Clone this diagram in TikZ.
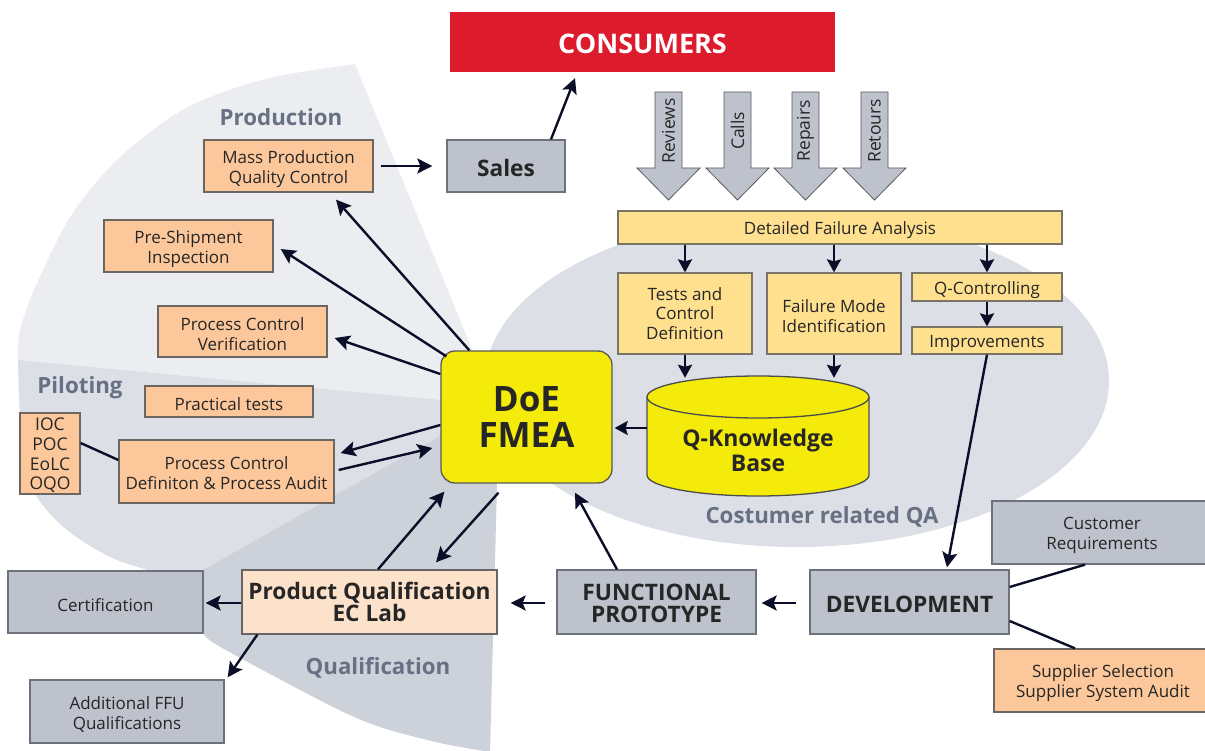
\documentclass[tikz,border=0pt]{standalone}
\usepackage{fontspec}
\setmainfont{Open Sans}
\usetikzlibrary{arrows.meta,calc}

\definecolor{prodbg}{HTML}{ECEDF1}
\definecolor{pilotbg}{HTML}{DCDFE6}
\definecolor{qualbg}{HTML}{CDD1DA}
\definecolor{qabg}{HTML}{DCDFE6}
\definecolor{grayfill}{HTML}{BDC2CC}
\definecolor{grayedge}{HTML}{6C717C}
\definecolor{orangefill}{HTML}{FCC89B}
\definecolor{orangeedge}{HTML}{6B6660}
\definecolor{peachfill}{HTML}{FDE2CB}
\definecolor{sandfill}{HTML}{FEE08E}
\definecolor{sandedge}{HTML}{7A7466}
\definecolor{doeyellow}{HTML}{F4EB0A}
\definecolor{consred}{HTML}{DC1B2D}
\definecolor{ink}{HTML}{0B0E28}
\definecolor{labelgray}{HTML}{687083}
\definecolor{txt}{HTML}{262626}

% strut for the first line of a multi-line box label
\newcommand{\firstline}{\rule{0pt}{18.5pt}}

\tikzset{
  % a strut at the start of a node pushes its text slightly downwards
  nudge/.style={execute at begin node={\rule{0pt}{#1}}},
  box/.style={draw, line width=1.3pt, inner sep=0pt, align=center, text=txt,
    font=\fontsize{17}{20}\selectfont, nudge=18.5pt},
  obox/.style={box, fill=orangefill, draw=orangeedge},
  gbox/.style={box, fill=grayfill, draw=grayedge},
  ybox/.style={box, fill=sandfill, draw=sandedge},
  bigtext/.style={font=\bfseries\fontsize{22.7}{22.5}\selectfont, nudge=21.5pt},
  flow/.style={draw=ink, line width=2.4pt, -{Stealth[length=15pt,width=15pt,inset=3pt]}},
  shortflow/.style={draw=ink, line width=2.4pt, -{Stealth[length=13pt,width=14pt,inset=2pt]}},
  link/.style={draw=ink, line width=2.4pt},
  regionlabel/.style={text=labelgray, font=\bfseries\fontsize{22.3}{26}\selectfont},
  feedarrow/.style={fill=grayfill, draw=black!65, line width=0.8pt},
  feedtext/.style={rotate=90, text=txt, font=\fontsize{17.5}{20}\selectfont}
}

\begin{document}
\begin{tikzpicture}[x=1pt,y=-1pt]
\useasboundingbox (0,0) rectangle (1205,751);

% ---- background sectors of the life cycle wheel ----
\coordinate (hub) at (495,405);
\fill[prodbg] (hub) -- plot[smooth] coordinates {(355,64) (265,79) (186,108) (120,157) (72,214) (37,283) (20,330) (18,360)} -- cycle;
\fill[pilotbg] (hub) -- plot[smooth] coordinates {(18,360) (21,430) (33,490) (67,530) (117,560) (185,580)} -- cycle;
\fill[qualbg] (hub) -- plot[smooth] coordinates {(185,580) (196,615) (205,636) (233,654) (333,707) (380,727) (440,743) (490,752)} -- (497,485) -- cycle;
% customer related QA area
\fill[qabg] (797,381) ellipse [x radius=312pt, y radius=166pt];

% ---- region labels ----
\node[regionlabel] (lprod) at (281,117) {Production};
\node[regionlabel] (lpilot) at (80,388) {Piloting};
\node[regionlabel] (lqual) at (378,668) {Qualification};
\node[regionlabel] (lqa) at (822,517) {Costumer related QA};

% ---- market side ----
\node[fill=consred, inner sep=0pt, minimum width=385pt, minimum height=60pt, nudge=23.5pt,
      text=white, font=\bfseries\fontsize{27}{30}\selectfont] (consumers) at (642.5,42) {CONSUMERS};
\node[gbox, bigtext, minimum width=118pt, minimum height=52pt] (sales) at (506,166) {Sales};

% feedback channels
\path[feedarrow] (655,92) -- (682,92) -- (682,168) -- (700,168) -- (668.5,200) -- (637,168) -- (655,168) -- cycle;
\path[feedarrow] (724,92) -- (751,92) -- (751,168) -- (769,168) -- (737.5,200) -- (706,168) -- (724,168) -- cycle;
\path[feedarrow] (792,92) -- (819,92) -- (819,168) -- (837,168) -- (805.5,200) -- (774,168) -- (792,168) -- cycle;
\path[feedarrow] (861,92) -- (888,92) -- (888,168) -- (906,168) -- (874.5,200) -- (843,168) -- (861,168) -- cycle;
\node[feedtext] (reviews) at (668.5,131) {Reviews};
\node[feedtext] (calls) at (737.5,131) {Calls};
\node[feedtext] (repairs) at (805.5,131) {Repairs};
\node[feedtext] (retours) at (874.5,131) {Retours};

% ---- failure analysis chain ----
\node[ybox, minimum width=444pt, minimum height=33pt] (dfa) at (840,227.5) {Detailed Failure Analysis};
\node[ybox, minimum width=134pt, minimum height=81pt, font=\fontsize{17}{19.5}\selectfont] (tests) at (685,313.5) {Tests and\\Control\\Definition};
\node[ybox, minimum width=134pt, minimum height=81pt] (fmi) at (834,313.5) {\firstline Failure Mode\\Identification};
\node[ybox, minimum width=150pt, minimum height=28pt] (qctrl) at (987,287) {Q-Controlling};
\node[ybox, minimum width=150pt, minimum height=27pt] (impr) at (987,340.5) {Improvements};

% knowledge base cylinder
\node[minimum width=222pt, minimum height=120pt, inner sep=0pt] (kb) at (758,436) {};
\path[fill=doeyellow, draw=black!70, line width=1.3pt] (647,397) -- (647,475)
  arc[start angle=180, end angle=360, x radius=111pt, y radius=21pt] -- (869,397)
  arc[start angle=0, end angle=180, x radius=111pt, y radius=21pt] -- cycle;
\draw[black!70, line width=1.3pt] (647,397) arc[start angle=180, end angle=360, x radius=111pt, y radius=21pt];
\node[align=center, text=txt, font=\bfseries\fontsize{23}{25}\selectfont] (kbtext) at (758,450) {Q-Knowledge\\Base};

% ---- central method box ----
\node[draw=black!65, line width=1.3pt, fill=doeyellow, rounded corners=14pt, inner sep=0pt,
      minimum width=171pt, minimum height=132pt, align=center, text=txt,
      font=\bfseries\fontsize{35}{36}\selectfont] (doe) at (526.5,417) {DoE\\FMEA};

% ---- production / piloting ----
\node[obox, minimum width=169pt, minimum height=52pt] (mass) at (288.5,166) {\firstline Mass Production\\Quality Control};
\node[obox, minimum width=169pt, minimum height=52pt] (preship) at (188.5,246) {\firstline Pre-Shipment\\Inspection};
\node[obox, minimum width=169pt, minimum height=51pt] (pcv) at (242.5,331.5) {\firstline Process Control\\Verification};
\node[obox, minimum width=168pt, minimum height=31pt] (practical) at (229,401.5) {Practical tests};
\node[obox, minimum width=60pt, minimum height=81pt, font=\fontsize{17.5}{19.7}\selectfont] (ioc) at (50,453.5) {\rule{0pt}{16.5pt}IOC\\POC\\EoLC\\OQO};
\node[obox, minimum width=215pt, minimum height=63pt] (pcd) at (226.5,471.5) {\rule{0pt}{17pt}Process Control\\Definiton \& Process Audit};

% ---- qualification / development ----
\node[box, fill=peachfill, draw=black!60, bigtext, minimum width=255pt, minimum height=64pt] (pq) at (369.5,602) {Product Qualification\\EC Lab};
\node[gbox, minimum width=195pt, minimum height=62pt] (cert) at (105.5,602) {Certification};
\node[gbox, minimum width=194pt, minimum height=63pt] (ffu) at (127,711.5) {\firstline Additional FFU\\Qualifications};
\node[gbox, bigtext, minimum width=199pt, minimum height=64pt] (fp) at (656.5,602) {\rule{0pt}{19pt}FUNCTIONAL\\PROTOTYPE};
\node[gbox, bigtext, minimum width=199pt, minimum height=64pt] (dev) at (909.5,602) {DEVELOPMENT};
\node[gbox, minimum width=220pt, minimum height=63pt] (custreq) at (1102,532.5) {\firstline Customer\\Requirements};
\node[obox, minimum width=218pt, minimum height=63pt] (supplier) at (1103,680.5) {\firstline Supplier Selection\\Supplier System Audit};

% ---- connectors ----
\draw[flow] ([xshift=45pt]sales.north) -- ([xshift=-67.5pt,yshift=-6pt]consumers.south);
\draw[flow] ([xshift=7pt]mass.east) -- ([xshift=-14pt]sales.west);

\draw[flow] ([xshift=29pt]doe.north west) -- ([xshift=47.5pt,yshift=-7pt]mass.south);
\draw[flow] ([xshift=6pt,yshift=-6pt]doe.north west) -- ([xshift=7pt,yshift=-3pt]preship.east);
\draw[flow] ([yshift=43pt]doe.west) -- ([xshift=7pt,yshift=-6.5pt]pcv.east);
\draw[flow] ([yshift=-8pt]doe.west) -- ([xshift=6pt,yshift=18.5pt]pcd.east);
\draw[flow] ([xshift=4pt,yshift=1.5pt]pcd.east) -- ([xshift=-8pt,yshift=-31pt]doe.west);
\draw[link] ([yshift=10.5pt]ioc.east) -- ([yshift=11.5pt]pcd.west);

\draw[flow] ([yshift=-1pt]pq.west) -- ([xshift=2pt,yshift=-1pt]cert.east);
\draw[flow] ([xshift=16pt]pq.south west) -- ([xshift=3pt,yshift=2pt]ffu.north east);
\draw[flow] ([xshift=8.5pt]pq.north) -- ([xshift=4pt,yshift=-8pt]doe.south west);
\draw[flow] ([xshift=-28pt,yshift=-9pt]doe.south) -- ([xshift=66.5pt,yshift=7pt]pq.north);
\draw[flow] ([xshift=-11pt,yshift=-1pt]fp.west) -- ([xshift=13pt,yshift=-1pt]pq.east);
\draw[flow] ([xshift=-39.5pt]fp.north) -- ([xshift=48.5pt,yshift=-9pt]doe.south);
\draw[flow] ([xshift=-13pt,yshift=-1pt]dev.west) -- ([xshift=5pt,yshift=-1pt]fp.east);
\draw[flow] (impr.south) -- ([xshift=37.5pt,yshift=2pt]dev.north);
\draw[link] ([yshift=15pt]dev.east) -- ([xshift=-17pt]custreq.south);
\draw[link] ([yshift=-19pt]dev.east) -- ([xshift=-28pt]supplier.north);

\draw[shortflow] (tests.north |- dfa.south) -- (tests.north);
\draw[shortflow] (fmi.north |- dfa.south) -- (fmi.north);
\draw[shortflow] (qctrl.north |- dfa.south) -- (qctrl.north);
\draw[shortflow] (qctrl.south) -- (impr.north);
\draw[shortflow] (tests.south) -- ([yshift=-2pt]tests.south |- kb.north);
\draw[shortflow] (fmi.south) -- ([yshift=-2pt]fmi.south |- kb.north);
\draw[shortflow] ([yshift=8pt]kb.west) -- ([xshift=2pt,yshift=-11pt]doe.east);
\end{tikzpicture}
\end{document}
